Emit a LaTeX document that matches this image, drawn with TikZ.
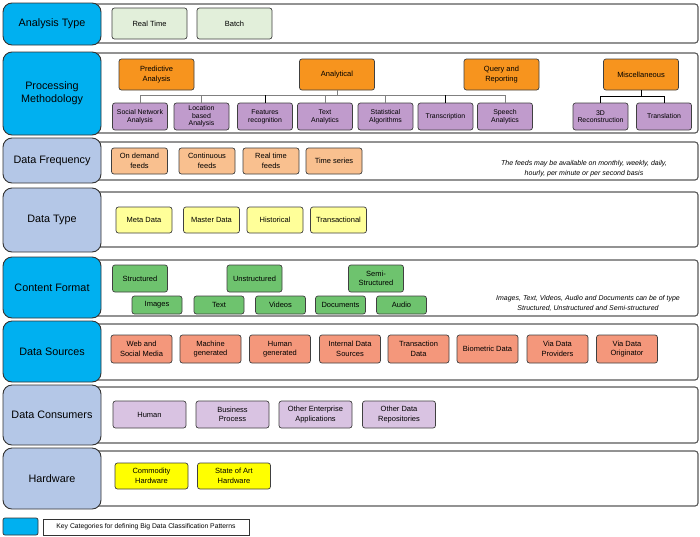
\documentclass[tikz,border=0pt]{standalone}
\usepackage{fontspec}
\setmainfont{Liberation Sans}
\begin{document}
\begin{tikzpicture}[x=1pt,y=-1pt,
  panel/.style={draw=black!65, line width=1.1pt, rounded corners=3pt, fill=white},
  cat/.style={draw=black!80, line width=0.9pt, rounded corners=9pt, minimum width=98, align=center, font=\fontsize{10.8}{13}\selectfont, inner sep=0pt},
  catA/.style={cat, fill=catblue},
  catB/.style={cat, fill=catlight},
  item/.style={draw=black!75, line width=0.7pt, rounded corners=2.5pt, align=center, inner sep=0pt, font=\fontsize{7.5}{9.4}\selectfont},
  sub/.style={item, fill=subpurple, minimum width=55, minimum height=27, font=\fontsize{6.9}{7.7}\selectfont},
  note/.style={align=center, font=\fontsize{7}{10}\selectfont\itshape, inner sep=0pt},
  bus/.style={draw=black!50, line width=0.8pt},
  busk/.style={draw=black, line width=0.8pt}
]
\definecolor{catblue}{HTML}{00B0F0}
\definecolor{catlight}{HTML}{B4C7E7}
\definecolor{rtgreen}{HTML}{E2EFDA}
\definecolor{orng}{HTML}{F7941E}
\definecolor{subpurple}{HTML}{C09BCC}
\definecolor{peach}{HTML}{F9C08F}
\definecolor{lyellow}{HTML}{FFFF99}
\definecolor{grn}{HTML}{6EC36E}
\definecolor{salmon}{HTML}{F4977B}
\definecolor{lav}{HTML}{D9C3E2}
\definecolor{yel}{HTML}{FFFF00}
\useasboundingbox (0,0) rectangle (700,536);

% ---------- Row 1: Analysis Type
\draw[panel] (60,4) rectangle (698,43);
\node[catA, minimum height=42] (at) at (52,24) {Analysis Type};
\node[item, fill=rtgreen, minimum width=75, minimum height=31] (rt) at (149.5,23.5) {Real Time};
\node[item, fill=rtgreen, minimum width=75, minimum height=31] (batch) at (234.5,23.5) {Batch};

% ---------- Row 2: Processing Methodology
\draw[panel] (60,53) rectangle (698,133);
\node[catA, minimum height=83] (pm) at (52,93.5) {Processing\\Methodology};
\tikzset{top/.style={item, fill=orng, minimum width=75, minimum height=31}}
\node[top] (pred) at (156.5,74.5) {Predictive\\Analysis};
\node[top] (anal) at (337,74.5) {Analytical};
\node[top] (query) at (501.5,74.5) {Query and\\Reporting};
\node[top] (misc) at (641,74.5) {Miscellaneous};
\node[sub] (sna) at (140,116.5) {Social Network\\Analysis};
\node[sub] (loc) at (201.5,116.5) {Location\\based\\Analysis};
\node[sub] (feat) at (265,116.5) {Features\\recognition};
\node[sub] (text) at (325,116.5) {Text\\Analytics};
\node[sub] (stat) at (385.5,116.5) {Statistical\\Algorithms};
\node[sub] (trans) at (445.5,116.5) {Transcription};
\node[sub] (speech) at (505,116.5) {Speech\\Analytics};
\node[sub] (recon) at (600.5,116.5) {3D\\Reconstruction};
\node[sub] (transl) at (664,116.5) {Translation};
\coordinate (b1) at (0,95);
\coordinate (b2) at (0,96);
\draw[bus] (anal.south) -- (anal.south |- b1);
\draw[bus] (sna.north |- b1) -- (speech.north |- b1);
\foreach \n in {sna,loc,text,stat,speech} \draw[bus] (\n.north) -- (\n.north |- b1);
\foreach \n in {feat,trans} \draw[busk] (\n.north) -- (\n.north |- b1);
\draw[busk] (misc.south) -- (misc.south |- b2);
\draw[busk] (recon.north |- b2) -- (transl.north |- b2);
\draw[busk] (recon.north) -- (recon.north |- b2);
\draw[busk] (transl.north) -- (transl.north |- b2);

% ---------- Row 3: Data Frequency
\draw[panel] (60,142) rectangle (698,180);
\node[catB, minimum height=45] (df) at (52,160.5) {Data Frequency};
\tikzset{fr/.style={item, fill=peach, minimum width=56, minimum height=26}}
\node[fr] (ond) at (139.5,161) {On demand\\feeds};
\node[fr] (cont) at (207,161) {Continuous\\feeds};
\node[fr] (rtf) at (271,161) {Real time\\feeds};
\node[fr] (ts) at (334,161) {Time series};
\node[note] (dfnote) at (584,169) {The feeds may be available on monthly, weekly, daily,\\hourly, per minute or per second basis};

% ---------- Row 4: Data Type
\draw[panel] (60,192) rectangle (698,247);
\node[catB, minimum height=64] (dt) at (52,220) {Data Type};
\tikzset{ty/.style={item, fill=lyellow, minimum width=56, minimum height=26}}
\node[ty] (meta) at (144,220) {Meta Data};
\node[ty] (master) at (211.5,220) {Master Data};
\node[ty] (hist) at (275,220) {Historical};
\node[ty] (transa) at (338.5,220) {Transactional};

% ---------- Row 5: Content Format
\draw[panel] (60,260) rectangle (698,316);
\node[catA, minimum height=61] (cf) at (52,287.5) {Content Format};
\tikzset{gt/.style={item, fill=grn, minimum width=55, minimum height=27},
         gb/.style={item, fill=grn, minimum width=50, minimum height=18}}
\node[gt] (struct) at (140,278.5) {Structured};
\node[gt] (unstruct) at (254.5,278.5) {Unstructured};
\node[gt] (semi) at (376,278.5) {Semi-\\Structured};
\node[gb] (img) at (157,305) {Images};
\node[gb] (txt) at (219,305) {Text};
\node[gb] (vid) at (280.5,305) {Videos};
\node[gb] (doc) at (340.5,305) {Documents};
\node[gb] (aud) at (401.5,305) {Audio};
\node[note] (cfnote) at (588,303) {Images, Text, Videos, Audio and Documents can be of type\\Structured, Unstructured and Semi-structured};

% ---------- Row 6: Data Sources
\draw[panel] (60,324) rectangle (698,380);
\node[catA, minimum height=61] (ds) at (52,351.5) {Data Sources};
\tikzset{src/.style={item, fill=salmon, minimum width=61, minimum height=28}}
\node[src] (web) at (141.5,349) {Web and\\Social Media};
\node[src] (mach) at (210.5,349) {Machine\\generated};
\node[src] (hum) at (280,349) {Human\\generated};
\node[src] (intl) at (350,349) {Internal Data\\Sources};
\node[src] (trd) at (418.5,349) {Transaction\\Data};
\node[src] (bio) at (487.5,349) {Biometric Data};
\node[src] (vdp) at (557.5,349) {Via Data\\Providers};
\node[src] (vdo) at (627,349) {Via Data\\Originator};

% ---------- Row 7: Data Consumers
\draw[panel] (60,387) rectangle (698,443);
\node[catB, minimum height=60] (dc) at (52,415) {Data Consumers};
\tikzset{con/.style={item, fill=lav, minimum width=73, minimum height=27}}
\node[con] (chum) at (149.5,414.5) {Human};
\node[con] (bp) at (232.5,414.5) {Business\\Process};
\node[con] (oea) at (315.5,414.5) {Other Enterprise\\Applications};
\node[con] (odr) at (399,414.5) {Other Data\\Repositories};

% ---------- Row 8: Hardware
\draw[panel] (60,451) rectangle (698,506);
\node[catB, minimum height=61] (hw) at (52,478.5) {Hardware};
\tikzset{hwb/.style={item, fill=yel, minimum width=73, minimum height=26}}
\node[hwb] (comm) at (151.5,476) {Commodity\\Hardware};
\node[hwb] (soa) at (234,476) {State of Art\\Hardware};

% ---------- Legend
\node[draw=black!80, line width=0.7pt, fill=catblue, rounded corners=2pt, minimum width=35, minimum height=17, inner sep=0pt] (keybox) at (20.5,526.5) {};
\node[draw=black!80, line width=0.6pt, fill=white, minimum width=206, minimum height=16, inner sep=0pt, font=\fontsize{6.8}{8}\selectfont] (keytext) at (146,527) {Key Categories for defining Big Data Classification Patterns};
\end{tikzpicture}
\end{document}
